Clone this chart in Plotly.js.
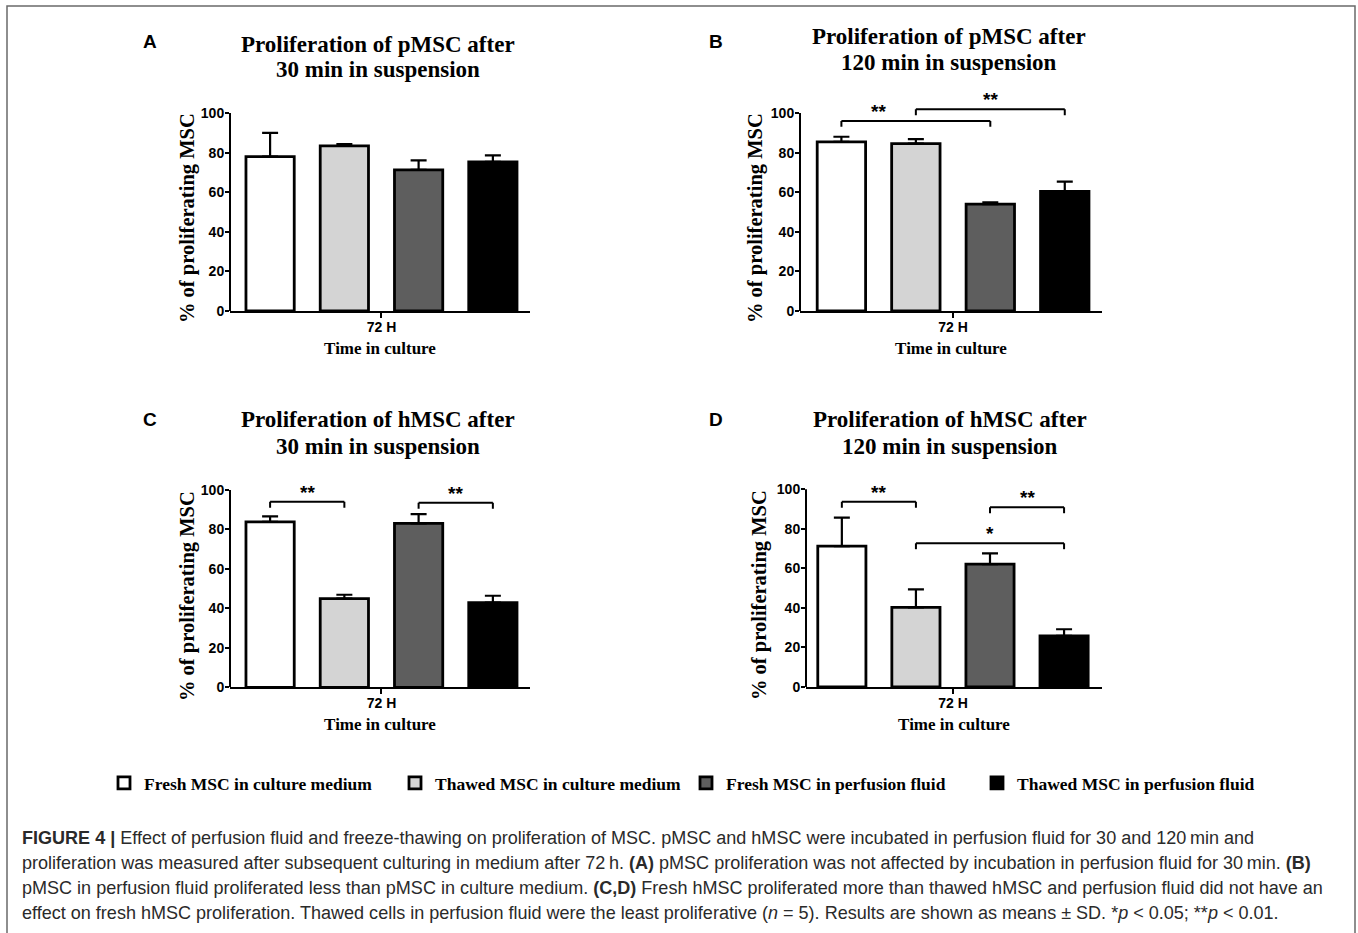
<!DOCTYPE html>
<html>
<head>
<meta charset="utf-8">
<script src="https://cdn.plot.ly/plotly-3.0.1.min.js"></script>
<style>html,body{margin:0;padding:0;background:#fff;}#chart{width:1358px;height:933px;}</style>
</head>
<body>
<div id="chart"></div>
<script>
// ---------------- data ----------------
const seriesNames = ['Fresh MSC in culture medium', 'Thawed MSC in culture medium', 'Fresh MSC in perfusion fluid', 'Thawed MSC in perfusion fluid'];
const timeCategory = ['72 H'];
const yTickValues = [0, 20, 40, 60, 80, 100];
const xAxisTitle = 'Time in culture';
const yAxisTitle = '% of proliferating MSC';

const panelLetters = ['A', 'B', 'C', 'D'];
const panelTitles = [
  'Proliferation of pMSC after<br>30 min in suspension',
  'Proliferation of pMSC after<br>120 min in suspension',
  'Proliferation of hMSC after<br>30 min in suspension',
  'Proliferation of hMSC after<br>120 min in suspension'
];

const meanA = [78.0, 83.4, 71.3, 75.3];
const sdA   = [12.0, 0.9, 4.8, 3.3];
const meanB = [85.4, 84.5, 54.0, 60.4];
const sdB   = [2.6, 2.3, 0.9, 4.9];
const meanC = [83.8, 44.9, 83.1, 42.9];
const sdC   = [2.8, 2.0, 4.7, 3.5];
const meanD = [71.3, 40.3, 62.2, 25.9];
const sdD   = [14.4, 9.1, 5.4, 3.3];

// significance brackets: bar index from / to, bracket level (%), label
const sigFromA = [], sigToA = [], sigLevelA = [], sigLabelA = [];
const sigFromB = [0, 1], sigToB = [2, 3], sigLevelB = [96, 101.9], sigLabelB = ['**', '**'];
const sigFromC = [0, 2], sigToC = [1, 3], sigLevelC = [94, 93.5], sigLabelC = ['**', '**'];
const sigFromD = [0, 2, 1], sigToD = [1, 3, 3], sigLevelD = [93.7, 90.9, 72.7], sigLabelD = ['**', '**', '*'];

const captionLines = [
  '<b>FIGURE 4 |</b> Effect of perfusion fluid and freeze-thawing on proliferation of MSC. pMSC and hMSC were incubated in perfusion fluid for 30 and 120\u2009min and',
  'proliferation was measured after subsequent culturing in medium after 72\u2009h. <b>(A)</b> pMSC proliferation was not affected by incubation in perfusion fluid for 30\u2009min. <b>(B)</b>',
  'pMSC in perfusion fluid proliferated less than pMSC in culture medium. <b>(C,D)</b> Fresh hMSC proliferated more than thawed hMSC and perfusion fluid did not have an',
  'effect on fresh hMSC proliferation. Thawed cells in perfusion fluid were the least proliferative (<i>n</i> = 5). Results are shown as means \u00b1 SD. *<i>p</i> &lt; 0.05; **<i>p</i> &lt; 0.01.'
];

// ---------------- styling / layout ----------------
const W = 1358, H = 933;
const px = v => v / W;
const py = v => 1 - v / H;
const barColors = ['#ffffff', '#d4d4d4', '#5e5e5e', '#000000'];
const YMAX = 110;

const means = [meanA, meanB, meanC, meanD];
const sds = [sdA, sdB, sdC, sdD];
const sigs = [
  [sigFromA, sigToA, sigLevelA, sigLabelA],
  [sigFromB, sigToB, sigLevelB, sigLabelB],
  [sigFromC, sigToC, sigLevelC, sigLabelC],
  [sigFromD, sigToD, sigLevelD, sigLabelD]
];
// where along each bracket its label sits (style)
const sigLabelPos = [[], [0.25, 0.5], [0.5, 0.5], [0.5, 0.5, 0.5]];

// pixel geometry of each panel
const geo = [
  {xl: 230, xr: 530, y0: 311, y100: 113, range: [-0.51, 0.5], letter: [150, 42], title: [378, 44], ytitle: [187, 218]},
  {xl: 800, xr: 1102, y0: 311, y100: 113, range: [-0.514, 0.5], letter: [716, 42], title: [949, 36], ytitle: [755, 218]},
  {xl: 230, xr: 530, y0: 687.3, y100: 490, range: [-0.51, 0.5], letter: [150, 420], title: [378, 420], ytitle: [187, 596]},
  {xl: 806, xr: 1102, y0: 687, y100: 489.3, range: [-0.496, 0.503], letter: [716, 420], title: [950, 420], ytitle: [759, 595]}
];
const titleLineGap = 26;

const boldSerif = {family: 'Liberation Serif, Times New Roman, serif', color: '#000', weight: 'bold'};
const boldSans = {family: 'Liberation Sans, Arial, sans-serif', color: '#000', weight: 'bold'};

const traces = [];
const shapes = [];
const annotations = [];
const layout = {
  width: W, height: H,
  margin: {l: 0, r: 0, t: 0, b: 0},
  paper_bgcolor: '#ffffff', plot_bgcolor: 'rgba(0,0,0,0)',
  barmode: 'group', bargap: 0, bargroupgap: 0.35,
  showlegend: true,
  legend: {
    orientation: 'h', x: px(104), y: py(783), xanchor: 'left', yanchor: 'middle',
    font: Object.assign({size: 17.5}, boldSerif), traceorder: 'normal',
    entrywidthmode: 'pixels', entrywidth: 246,
    itemclick: false, itemdoubleclick: false
  }
};

const barCenter = i => -0.5 + (i + 0.5) / 4;

geo.forEach((g, p) => {
  const sfx = p === 0 ? '' : String(p + 1);
  const xa = 'x' + sfx, ya = 'y' + sfx;
  const scale = (g.y0 - g.y100) / 100;
  const yTop = g.y0 - YMAX * scale;

  seriesNames.forEach((name, s) => {
    traces.push({
      type: 'bar', name: name, legendgroup: name, showlegend: p === 0,
      x: timeCategory, y: [means[p][s]],
      xaxis: xa, yaxis: ya,
      marker: {color: barColors[s], line: {color: '#000', width: 2.8}},
      error_y: {type: 'data', symmetric: false, array: [sds[p][s]], arrayminus: [0], color: '#000', thickness: 2.2, width: 8},
      hoverinfo: 'skip'
    });
  });

  layout['xaxis' + sfx] = {
    domain: [px(g.xl), px(g.xr)], anchor: ya, type: 'category', range: g.range,
    showline: true, linecolor: '#000', linewidth: 2,
    ticks: 'outside', ticklen: 5, tickwidth: 2, tickcolor: '#000', ticklabelstandoff: -3,
    tickfont: Object.assign({size: 14}, boldSans), showgrid: false, zeroline: false, fixedrange: true,
    title: {text: xAxisTitle, font: Object.assign({size: 17}, boldSerif), standoff: 8}
  };
  layout['yaxis' + sfx] = {
    domain: [py(g.y0), py(yTop)], anchor: xa, range: [0, YMAX],
    tickvals: yTickValues, ticks: 'outside', ticklen: 4, tickwidth: 2, tickcolor: '#000', ticklabelstandoff: -2,
    tickfont: Object.assign({size: 14}, boldSans), showline: false, showgrid: false, zeroline: false, fixedrange: true
  };

  // y axis title
  annotations.push({xref: 'paper', yref: 'paper', x: px(g.ytitle[0]), y: py(g.ytitle[1]), text: yAxisTitle,
    textangle: -90, showarrow: false, xanchor: 'center', yanchor: 'middle', font: Object.assign({size: 20.5}, boldSerif)});

  // y axis line from 0 to 100
  shapes.push({type: 'line', xref: 'paper', yref: ya, x0: px(g.xl), x1: px(g.xl), y0: 0, y1: 100,
    line: {color: '#000', width: 2}});

  // significance brackets
  const [from, to, level, label] = sigs[p];
  const tip = 3;
  from.forEach((f, k) => {
    const x0 = barCenter(f), x1 = barCenter(to[k]), lv = level[k];
    const ln = {color: '#000', width: 2};
    shapes.push({type: 'line', xref: xa, yref: ya, x0: x0, x1: x1, y0: lv, y1: lv, line: ln});
    shapes.push({type: 'line', xref: xa, yref: ya, x0: x0, x1: x0, y0: lv, y1: lv - tip, line: ln});
    shapes.push({type: 'line', xref: xa, yref: ya, x0: x1, x1: x1, y0: lv, y1: lv - tip, line: ln});
    annotations.push({xref: xa, yref: ya, x: x0 + (x1 - x0) * sigLabelPos[p][k], y: lv, text: label[k], showarrow: false,
      xanchor: 'center', yanchor: 'bottom', yshift: -3, font: Object.assign({size: 19}, boldSans)});
  });

  annotations.push({xref: 'paper', yref: 'paper', x: px(g.letter[0]), y: py(g.letter[1]), text: panelLetters[p],
    showarrow: false, xanchor: 'center', yanchor: 'middle', font: Object.assign({size: 19}, boldSans)});
  panelTitles[p].split('<br>').forEach((line, li) => {
    annotations.push({xref: 'paper', yref: 'paper', x: px(g.title[0]), y: py(g.title[1] + li * titleLineGap), text: line,
      showarrow: false, xanchor: 'center', yanchor: 'middle', font: Object.assign({size: 23}, boldSerif)});
  });
});

// caption
const capY = [838, 863, 888, 913];
captionLines.forEach((t, i) => {
  annotations.push({xref: 'paper', yref: 'paper', x: px(20), y: py(capY[i]), text: t, showarrow: false,
    xanchor: 'left', yanchor: 'middle', align: 'left',
    font: {family: 'Liberation Sans, Arial, sans-serif', size: 18.05, color: '#2a2a2a'}});
});

// frame
shapes.push({type: 'rect', xref: 'paper', yref: 'paper', x0: px(7), x1: px(1355), y0: py(6), y1: py(960),
  line: {color: '#6a6a6a', width: 1.5}, fillcolor: 'rgba(0,0,0,0)'});

layout.shapes = shapes;
layout.annotations = annotations;

Plotly.newPlot('chart', traces, layout, {staticPlot: true, displayModeBar: false});
</script>
</body>
</html>
